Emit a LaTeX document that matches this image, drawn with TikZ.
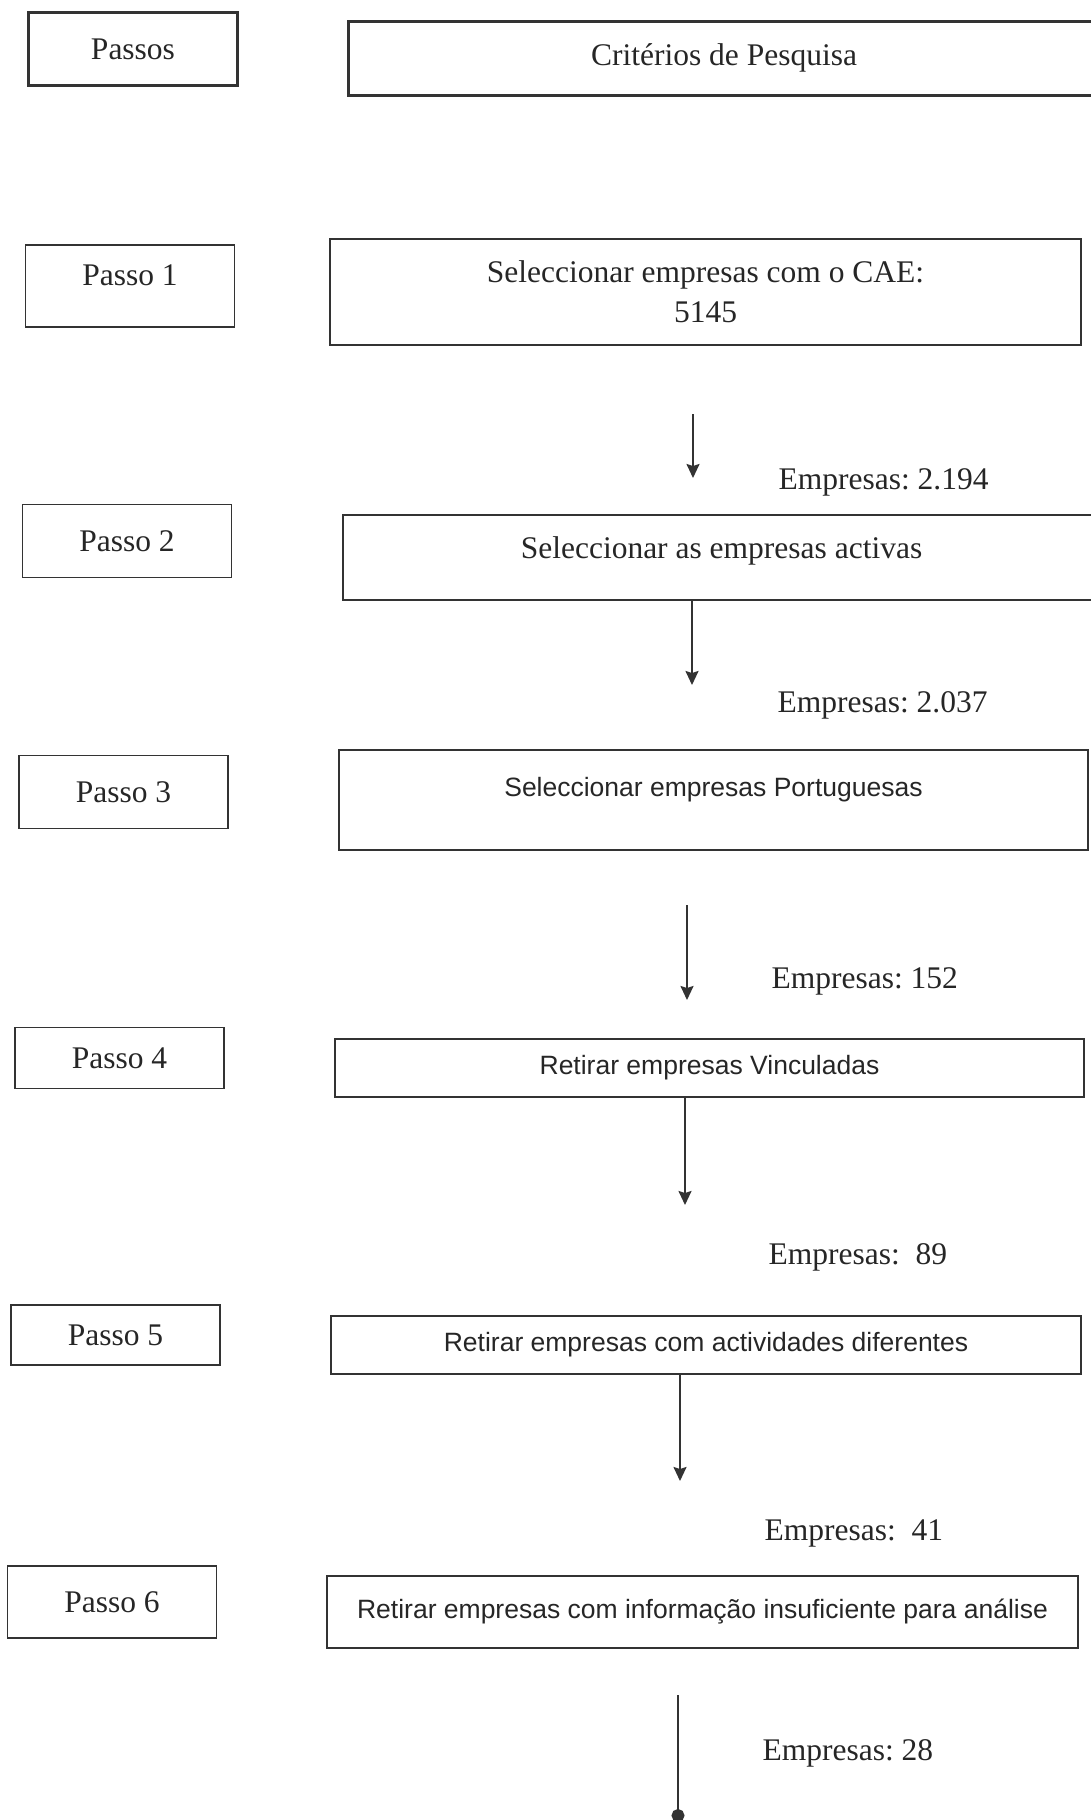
\documentclass[tikz,border=0pt]{standalone}
\usepackage{fontspec}
\setmainfont{Liberation Serif}
\setsansfont{Liberation Sans}
\usepackage{xcolor}
\usetikzlibrary{arrows.meta}
\frenchspacing

\begin{document}
\begin{tikzpicture}[x=1pt, y=-1pt,
    passo/.style={draw=black!80, line width=1.8pt, rectangle, minimum width=209pt, inner sep=0pt, text=black!85, font=\fontsize{31.5}{38}\selectfont},
    filtro/.style={draw=black!80, line width=1.8pt, rectangle, inner sep=0pt, align=center, text=black!85, font=\fontsize{31.5}{40}\selectfont},
    filtrosf/.style={filtro, font=\sffamily\fontsize{26.5}{32}\selectfont},
    seta/.style={draw=black!80, line width=1.8pt, -{Stealth[length=14pt, width=13pt, inset=2pt]}},
    contagem/.style={anchor=base west, text=black!85, font=\fontsize{31.5}{38}\selectfont}]

    \useasboundingbox (0,0) rectangle (1090,1820);

    % cabecalho
    \node[passo, line width=3pt, minimum height=73pt] (passos) at (133,49) {Passos};
    \node[filtro, line width=3pt, minimum width=752pt, minimum height=74pt] (crit) at (724,58) {Critérios de Pesquisa};

    % passos e criterios
    \node[passo, minimum height=82pt, text depth=22pt] (p1) at (130,286) {Passo 1};
    \node[filtro, minimum width=751pt, minimum height=106pt] (c1) at (705.5,292) {Seleccionar empresas com o CAE:\\5145};

    \node[passo, minimum height=73pt] (p2) at (127,541) {Passo 2};
    \node[filtro, minimum width=757pt, minimum height=85pt, text depth=19pt] (c2) at (721.5,557.5) {Seleccionar as empresas activas};

    \node[passo, minimum height=73pt] (p3) at (123.5,792) {Passo 3};
    \node[filtrosf, minimum width=749pt, minimum height=100pt, text depth=27pt] (c3) at (713.5,800) {Seleccionar empresas Portuguesas};

    \node[passo, minimum height=61pt] (p4) at (119.5,1058) {Passo 4};
    \node[filtrosf, minimum width=749pt, minimum height=58pt] (c4) at (709.5,1068) {Retirar empresas Vinculadas};

    \node[passo, minimum height=60pt] (p5) at (115.5,1335) {Passo 5};
    \node[filtrosf, minimum width=750pt, minimum height=58pt] (c5) at (706,1345) {Retirar empresas com actividades diferentes};

    \node[passo, minimum height=72pt] (p6) at (112,1602) {Passo 6};
    \node[filtrosf, minimum width=751pt, minimum height=72pt] (c6) at (702.5,1612) {Retirar empresas com informação insuficiente para análise};

    % setas
    \coordinate (s1) at (693,414);
    \coordinate (e1) at (693,478);
    \coordinate (e2) at (692,685);
    \coordinate (s3) at (687,905);
    \coordinate (e3) at (687,1000);
    \coordinate (e4) at (685,1205);
    \coordinate (e5) at (680,1481);
    \coordinate (s6) at (678,1695);
    \coordinate (e6) at (678,1822);

    \draw[seta] (s1) -- (e1);
    \draw[seta] (c2.south -| e2) -- (e2);
    \draw[seta] (s3) -- (e3);
    \draw[seta] (c4.south -| e4) -- (e4);
    \draw[seta] (c5.south -| e5) -- (e5);
    \draw[draw=black!80, line width=1.8pt, -{Circle[length=13pt]}] (s6) -- (e6);

    % numero de empresas
    \node[contagem] (n1) at (775,489) {Empresas: 2.194};
    \node[contagem] (n2) at (774,712) {Empresas: 2.037};
    \node[contagem] (n3) at (768,988) {Empresas: 152};
    \node[contagem] (n4) at (765,1264) {Empresas:~~89};
    \node[contagem] (n5) at (761,1540) {Empresas:~~41};
    \node[contagem] (n6) at (759,1760) {Empresas: 28};
\end{tikzpicture}
\end{document}
